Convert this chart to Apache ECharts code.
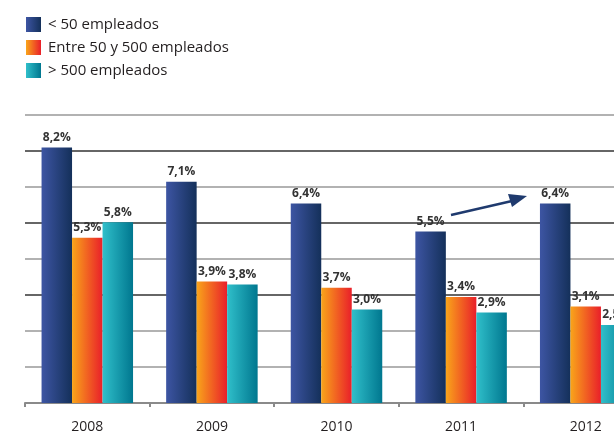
<!DOCTYPE html>
<html>
<head>
<meta charset="utf-8">
<script src="https://cdn.jsdelivr.net/npm/echarts@6/dist/echarts.min.js"></script>
<style>
  html, body { margin: 0; padding: 0; background: #fff; }
  #main { width: 614px; height: 435px; }
</style>
</head>
<body>
<div id="main"></div>
<script>
var years = ['2008', '2009', '2010', '2011', '2012'];
var menos50 = [8.2, 7.1, 6.4, 5.5, 6.4];
var entre50y500 = [5.3, 3.9, 3.7, 3.4, 3.1];
var mas500 = [5.8, 3.8, 3.0, 2.9, 2.5];
var seriesNames = ['< 50 empleados', 'Entre 50 y 500 empleados', '> 500 empleados'];

var FONT = '"Open Sans", "Liberation Sans", sans-serif';

function grad(c1, c2) {
    return new echarts.graphic.LinearGradient(0, 0, 1, 0, [
        { offset: 0, color: c1 },
        { offset: 1, color: c2 }
    ]);
}

// etiqueta con coma decimal
function fmt(p) {
    return p.value.toFixed(1).replace('.', ',') + '%';
}

function barSerie(name, data, c1, c2) {
    return {
        name: name,
        type: 'bar',
        data: data,
        barWidth: 30.5,
        barGap: '0%',
        itemStyle: { color: grad(c1, c2) },
        label: {
            show: true,
            position: 'top',
            distance: 4,
            formatter: fmt,
            fontFamily: FONT,
            fontWeight: 'bold',
            fontSize: 12,
            color: '#333'
        }
    };
}

var chart = echarts.init(document.getElementById('main'));

chart.setOption({
    animation: false,
    legend: {
        orient: 'vertical',
        left: 26,
        top: 17,
        padding: 0,
        itemWidth: 15,
        itemHeight: 15,
        itemGap: 8,
        icon: 'rect',
        textStyle: { fontFamily: FONT, fontSize: 15, color: '#231f20', padding: [0, 0, 0, 2] },
        data: seriesNames
    },
    grid: { left: 25, top: 115, width: 623, height: 288, outerBoundsMode: 'none' },
    xAxis: {
        type: 'category',
        data: years,
        axisLine: { lineStyle: { color: '#8a8a8a', width: 2 } },
        axisTick: { show: true, length: 4, lineStyle: { color: '#8a8a8a', width: 2 } },
        axisLabel: { fontFamily: FONT, fontSize: 14, color: '#231f20', margin: 17 }
    },
    yAxis: {
        type: 'value',
        min: 0,
        max: 9.24,
        interval: 1.155,
        axisLabel: { show: false },
        axisLine: { show: false },
        axisTick: { show: false },
        splitLine: {
            lineStyle: {
                width: 1.5,
                color: ['#999', '#999', '#999', '#333', '#999', '#333', '#999', '#333', '#999']
            }
        }
    },
    series: [
        barSerie(seriesNames[0], menos50, '#3d55a3', '#14305a'),
        barSerie(seriesNames[1], entre50y500, '#f9a51a', '#e91f2a'),
        barSerie(seriesNames[2], mas500, '#30bfca', '#00778f')
    ],
    graphic: [
        {
            type: 'polyline',
            shape: { points: [[451, 215], [512, 201]] },
            style: { stroke: '#1f3a6e', lineWidth: 2.5, fill: null }
        },
        {
            type: 'polygon',
            shape: { points: [[527, 196], [508, 194], [512, 207]] },
            style: { fill: '#1f3a6e' }
        }
    ]
});
</script>
</body>
</html>
